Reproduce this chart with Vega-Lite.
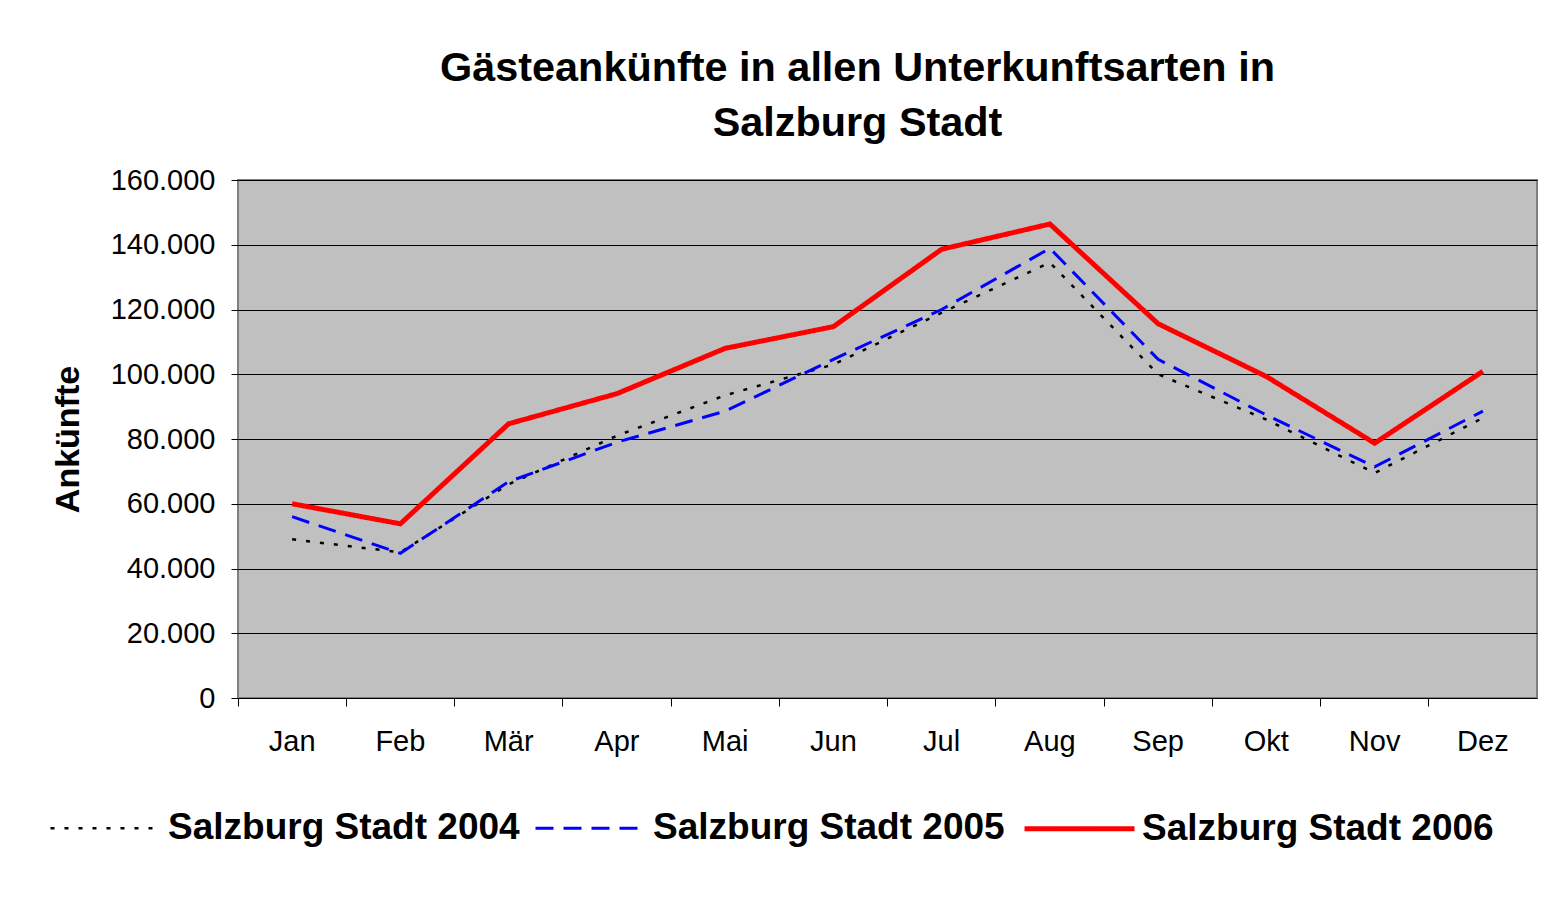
{
  "$schema": "https://vega.github.io/schema/vega-lite/v6.json",
  "width": 1299,
  "height": 518,
  "autosize": {"type": "none"},
  "padding": {"left": 238, "top": 180, "right": 14, "bottom": 201},
  "background": "white",
  "title": {
    "text": ["Gästeankünfte in allen Unterkunftsarten in", "Salzburg Stadt"],
    "font": "Liberation Sans",
    "fontSize": 41.4,
    "fontWeight": "bold",
    "lineHeight": 55,
    "anchor": "middle",
    "dx": -30,
    "offset": 22,
    "color": "black"
  },
  "data": {
    "values": [
      {"Monat": "Jan", "Serie": "Salzburg Stadt 2004", "Ankuenfte": 49000},
      {"Monat": "Feb", "Serie": "Salzburg Stadt 2004", "Ankuenfte": 45000},
      {"Monat": "Mär", "Serie": "Salzburg Stadt 2004", "Ankuenfte": 66000},
      {"Monat": "Apr", "Serie": "Salzburg Stadt 2004", "Ankuenfte": 81000},
      {"Monat": "Mai", "Serie": "Salzburg Stadt 2004", "Ankuenfte": 93500},
      {"Monat": "Jun", "Serie": "Salzburg Stadt 2004", "Ankuenfte": 103000},
      {"Monat": "Jul", "Serie": "Salzburg Stadt 2004", "Ankuenfte": 119000},
      {"Monat": "Aug", "Serie": "Salzburg Stadt 2004", "Ankuenfte": 134500},
      {"Monat": "Sep", "Serie": "Salzburg Stadt 2004", "Ankuenfte": 100000},
      {"Monat": "Okt", "Serie": "Salzburg Stadt 2004", "Ankuenfte": 86000},
      {"Monat": "Nov", "Serie": "Salzburg Stadt 2004", "Ankuenfte": 69500},
      {"Monat": "Dez", "Serie": "Salzburg Stadt 2004", "Ankuenfte": 86500},
      {"Monat": "Jan", "Serie": "Salzburg Stadt 2005", "Ankuenfte": 56000},
      {"Monat": "Feb", "Serie": "Salzburg Stadt 2005", "Ankuenfte": 44700},
      {"Monat": "Mär", "Serie": "Salzburg Stadt 2005", "Ankuenfte": 66800},
      {"Monat": "Apr", "Serie": "Salzburg Stadt 2005", "Ankuenfte": 79000},
      {"Monat": "Mai", "Serie": "Salzburg Stadt 2005", "Ankuenfte": 88600},
      {"Monat": "Jun", "Serie": "Salzburg Stadt 2005", "Ankuenfte": 104600},
      {"Monat": "Jul", "Serie": "Salzburg Stadt 2005", "Ankuenfte": 120000},
      {"Monat": "Aug", "Serie": "Salzburg Stadt 2005", "Ankuenfte": 138900},
      {"Monat": "Sep", "Serie": "Salzburg Stadt 2005", "Ankuenfte": 104600},
      {"Monat": "Okt", "Serie": "Salzburg Stadt 2005", "Ankuenfte": 87400},
      {"Monat": "Nov", "Serie": "Salzburg Stadt 2005", "Ankuenfte": 71400},
      {"Monat": "Dez", "Serie": "Salzburg Stadt 2005", "Ankuenfte": 88600},
      {"Monat": "Jan", "Serie": "Salzburg Stadt 2006", "Ankuenfte": 60000},
      {"Monat": "Feb", "Serie": "Salzburg Stadt 2006", "Ankuenfte": 53800},
      {"Monat": "Mär", "Serie": "Salzburg Stadt 2006", "Ankuenfte": 84700},
      {"Monat": "Apr", "Serie": "Salzburg Stadt 2006", "Ankuenfte": 94000},
      {"Monat": "Mai", "Serie": "Salzburg Stadt 2006", "Ankuenfte": 108000},
      {"Monat": "Jun", "Serie": "Salzburg Stadt 2006", "Ankuenfte": 114700},
      {"Monat": "Jul", "Serie": "Salzburg Stadt 2006", "Ankuenfte": 138600},
      {"Monat": "Aug", "Serie": "Salzburg Stadt 2006", "Ankuenfte": 146400},
      {"Monat": "Sep", "Serie": "Salzburg Stadt 2006", "Ankuenfte": 115600},
      {"Monat": "Okt", "Serie": "Salzburg Stadt 2006", "Ankuenfte": 99300},
      {"Monat": "Nov", "Serie": "Salzburg Stadt 2006", "Ankuenfte": 78700},
      {"Monat": "Dez", "Serie": "Salzburg Stadt 2006", "Ankuenfte": 100900}
    ]
  },
  "mark": {"type": "line", "strokeCap": "butt", "strokeJoin": "miter"},
  "encoding": {
    "x": {
      "field": "Monat",
      "type": "ordinal",
      "sort": ["Jan", "Feb", "Mär", "Apr", "Mai", "Jun", "Jul", "Aug", "Sep", "Okt", "Nov", "Dez"],
      "scale": {"type": "band", "paddingInner": 0, "paddingOuter": 0},
      "bandPosition": 0.5,
      "axis": {
        "title": null,
        "bandPosition": 0,
        "labelOffset": 0,
        "labelAngle": 0,
        "labelFont": "Liberation Sans",
        "labelFontSize": 29,
        "labelColor": "black",
        "labelPadding": 21,
        "tickSize": 8,
        "tickColor": "black",
        "tickWidth": 1,
        "domain": false,
        "grid": false
      }
    },
    "y": {
      "field": "Ankuenfte",
      "type": "quantitative",
      "scale": {"domain": [0, 160000], "nice": false, "zero": true},
      "axis": {
        "title": "Ankünfte",
        "titleFont": "Liberation Sans",
        "titleFontSize": 34,
        "titleFontWeight": "bold",
        "titleColor": "black",
        "titleAngle": -90,
        "titleAlign": "center",
        "titleBaseline": "middle",
        "titleX": -170,
        "titleY": 259,
        "values": [0, 20000, 40000, 60000, 80000, 100000, 120000, 140000, 160000],
        "labelExpr": "replace(format(datum.value, ','), ',', '.')",
        "labelFont": "Liberation Sans",
        "labelFontSize": 29,
        "labelColor": "black",
        "labelPadding": 16,
        "tickSize": 7,
        "tickColor": "black",
        "domain": false,
        "grid": true,
        "gridColor": "black",
        "gridWidth": 1,
        "gridOpacity": 1
      }
    },
    "color": {
      "field": "Serie",
      "type": "ordinal",
      "scale": {
        "domain": ["Salzburg Stadt 2004", "Salzburg Stadt 2005", "Salzburg Stadt 2006"],
        "range": ["#000000", "#0000FF", "#FF0000"]
      },
      "legend": {
        "title": null,
        "orient": "none",
        "legendX": -190,
        "legendY": 591,
        "direction": "horizontal",
        "columns": 3,
        "symbolType": "stroke",
        "symbolSize": 12100,
        "labelFont": "Liberation Sans",
        "labelFontSize": 37,
        "labelFontWeight": "bold",
        "labelColor": "black",
        "labelLimit": 600,
        "labelOffset": 5,
        "columnPadding": 9,
        "padding": 0
      }
    },
    "strokeDash": {
      "field": "Serie",
      "type": "ordinal",
      "scale": {
        "domain": ["Salzburg Stadt 2004", "Salzburg Stadt 2005", "Salzburg Stadt 2006"],
        "range": [[4, 10], [18, 10], [1, 0]]
      }
    },
    "strokeWidth": {
      "field": "Serie",
      "type": "ordinal",
      "scale": {
        "type": "ordinal",
        "domain": ["Salzburg Stadt 2004", "Salzburg Stadt 2005", "Salzburg Stadt 2006"],
        "range": [2.5, 3, 5]
      }
    }
  },
  "config": {
    "view": {"fill": "#C0C0C0", "stroke": "#808080", "strokeWidth": 2}
  }
}
